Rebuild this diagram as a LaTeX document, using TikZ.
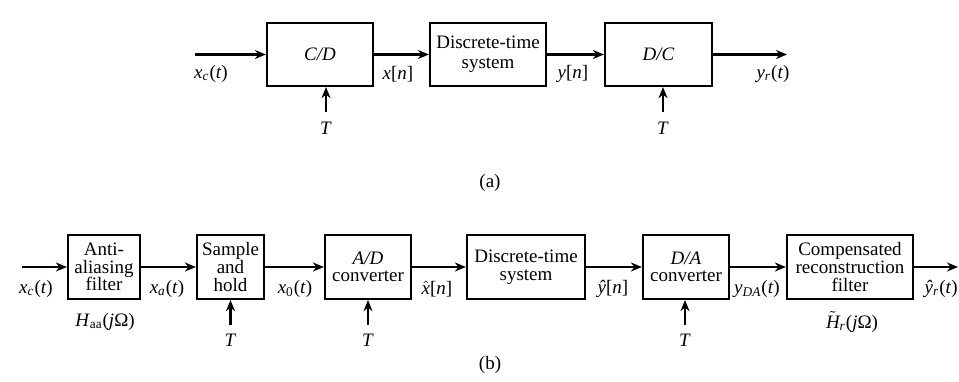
\documentclass[tikz,border=0pt]{standalone}
\usepackage{fontspec}
\setmainfont{Liberation Serif}
\usetikzlibrary{arrows.meta}
\begin{document}
\begin{tikzpicture}[x=0.5pt,y=-0.5pt,
  blk/.style={draw,line width=1.1pt,inner sep=0pt,align=center,minimum height=#1},
  blk/.default=31.5pt,
  txt/.style={font=\fontsize{9.5}{10}\selectfont},
  txtb/.style={font=\fontsize{9.5}{8.8}\selectfont},
  lbl/.style={inner sep=0pt,font=\fontsize{9.5}{10}\selectfont},
  arr/.style={line width=1.1pt,-{Stealth[length=5.5pt,width=4.5pt]}}]
\useasboundingbox (0,0) rectangle (959,381);
% ---------- (a) ----------
\node[blk,txt,minimum width=53pt] (cd) at (320,54.5) {\textit{C/D}};
\node[blk,txt,minimum width=58pt] (dta) at (488,54.5) {Discrete-time\\system};
\node[blk,txt,minimum width=53.5pt] (dc) at (658.5,54.5) {\textit{D/C}};
\coordinate (ain) at (195,54.5);
\coordinate (aout) at (787,54.5);
\draw[arr] (ain) -- (cd);
\draw[arr] (cd) -- (dta);
\draw[arr] (dta) -- (dc);
\draw[arr] (dc) -- (aout);
\coordinate (ta1) at (326,112);
\coordinate (ta2) at (663,112);
\draw[arr] (ta1) -- (ta1 |- cd.south);
\draw[arr] (ta2) -- (ta2 |- dc.south);
\node[lbl] (lta1) at (326,128) {\textit{T}};
\node[lbl] (lta2) at (663,128) {\textit{T}};
\node[lbl] (lxc) at (211,74) {\textit{x}\textsubscript{\textit{c}}(\textit{t})};
\node[lbl] (lxn) at (398,74) {\textit{x}[\textit{n}]};
\node[lbl] (lyn) at (573,74) {\textit{y}[\textit{n}]};
\node[lbl] (lyr) at (773,74) {\textit{y}\textsubscript{\textit{r}}(\textit{t})};
\node[lbl] (la) at (490,183) {(a)};
% ---------- (b) ----------
\node[blk=32pt,txtb,minimum width=36pt] (aa) at (104,267) {Anti-\\aliasing\\filter};
\node[blk=32pt,txtb,minimum width=33.5pt] (sh) at (230.5,267) {Sample\\and\\hold};
\node[blk=32pt,txtb,minimum width=43pt] (ad) at (368,267) {\textit{A/D}\\converter};
\node[blk=32pt,txtb,minimum width=59pt] (dtb) at (526,267) {Discrete-time\\system};
\node[blk=32pt,txtb,minimum width=43pt] (da) at (686,267) {\textit{D/A}\\converter};
\node[blk=32pt,txtb,minimum width=63pt] (crf) at (850,267) {Compensated\\reconstruction\\filter};
\coordinate (bin) at (22,267);
\coordinate (bout) at (958,267);
\draw[arr] (bin) -- (aa);
\draw[arr] (aa) -- (sh);
\draw[arr] (sh) -- (ad);
\draw[arr] (ad) -- (dtb);
\draw[arr] (dtb) -- (da);
\draw[arr] (da) -- (crf);
\draw[arr] (crf) -- (bout);
\coordinate (tb1) at (230.5,325);
\coordinate (tb2) at (368,325);
\coordinate (tb3) at (685,325);
\draw[arr] (tb1) -- (tb1 |- sh.south);
\draw[arr] (tb2) -- (tb2 |- ad.south);
\draw[arr] (tb3) -- (tb3 |- da.south);
\node[lbl] (ltb1) at (230.5,340) {\textit{T}};
\node[lbl] (ltb2) at (368,340) {\textit{T}};
\node[lbl] (ltb3) at (685,340) {\textit{T}};
\node[lbl] (lbxc) at (36,289) {\textit{x}\textsubscript{\textit{c}}(\textit{t})};
\node[lbl] (lxa) at (167,289) {\textit{x}\textsubscript{\textit{a}}(\textit{t})};
\node[lbl] (lx0) at (295,289) {\textit{x}\textsubscript{0}(\textit{t})};
\node[lbl] (lxh) at (437,289) {$\hat{\hbox{\itshape x}}$[\textit{n}]};
\node[lbl] (lyh) at (613,289) {\textit{ŷ}[\textit{n}]};
\node[lbl] (lyda) at (757,289) {\textit{y}\textsubscript{\textit{DA}}(\textit{t})};
\node[lbl,anchor=east] (lyrh) at (958,289) {\textit{ŷ}\textsubscript{\textit{r}}(\textit{t})};
\node[lbl] (lhaa) at (105,322) {\textit{H}\textsubscript{aa}(\textit{j}Ω)};
\node[lbl] (lhr) at (852,322) {$\tilde{\hbox{\itshape H}}$\textsubscript{\textit{r}}(\textit{j}Ω)};
\node[lbl] (lb) at (490,365) {(b)};
\end{tikzpicture}
\end{document}
